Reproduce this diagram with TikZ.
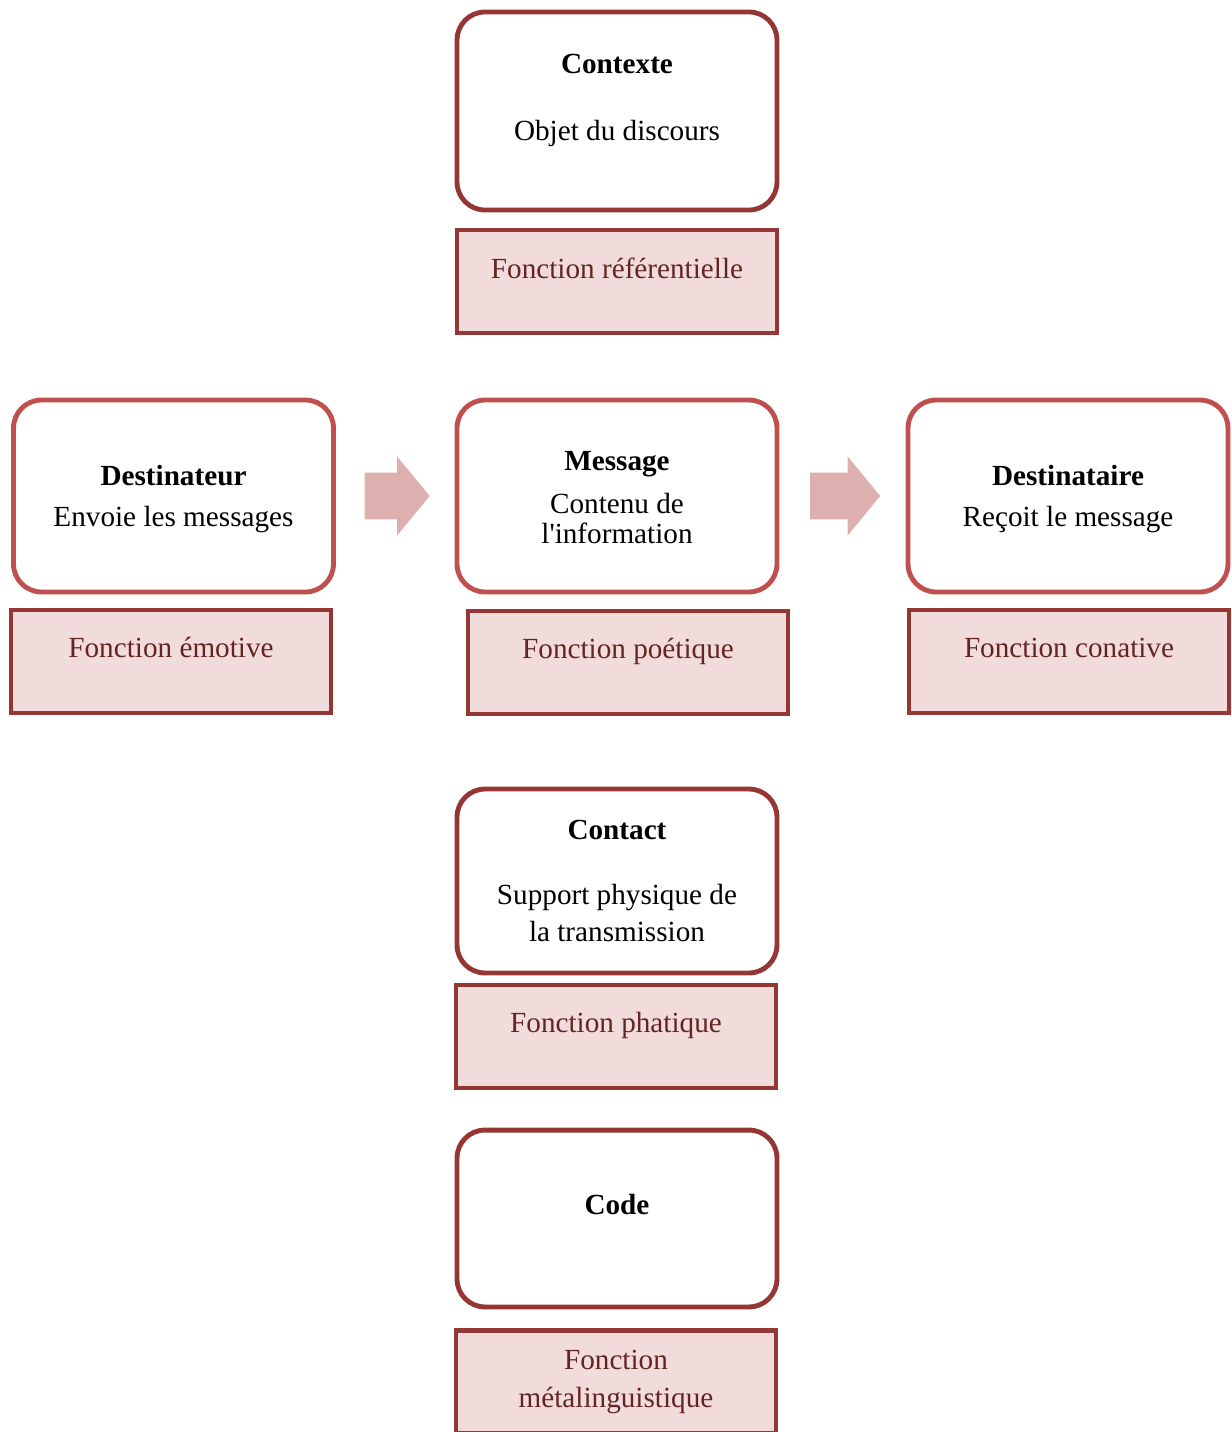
\documentclass[tikz,border=0pt]{standalone}
\usepackage{fontspec}
\setmainfont{Liberation Serif}[Ligatures=TeXOff]
\usetikzlibrary{shapes.arrows}
\definecolor{frame}{HTML}{943634}
\definecolor{framelight}{HTML}{C0504D}
\definecolor{rose}{HTML}{F2DCDB}
\definecolor{wine}{HTML}{632523}
\definecolor{arrowpink}{HTML}{DDAFAF}
\tikzset{
  every node/.style={font=\fontsize{12}{14.4}\selectfont, align=center,
    inner sep=0pt},
  rolebox/.style={draw=frame, fill=white, line width=2pt,
    rounded corners=11.5pt, minimum width=131.5pt},
  rolelight/.style={rolebox, draw=framelight, minimum height=78.9pt},
  fonction/.style={draw=frame, fill=rose, line width=2pt, text=wine,
    minimum width=131.5pt, minimum height=42.3pt},
  flow/.style={single arrow, fill=arrowpink, inner xsep=0pt,
    inner ysep=9.45pt, single arrow head extend=6.6pt,
    single arrow tip angle=101}
}

\begin{document}
\begin{tikzpicture}[x=0.411pt,y=-0.411pt]
\clip (0,0) rectangle (1231,1432);

% top: context
\node[rolebox, minimum height=81.4pt] (contexte) at (617,111)
  {\textbf{Contexte}\\[13.1pt]Objet du discours\\[-7.4pt]\strut};
\node[fonction] (referentielle) at (617,281.5)
  {Fonction référentielle\\[-7.4pt]\strut};

% middle row: sender, message, receiver
\node[rolelight] (destinateur) at (173.5,496)
  {\rule{0pt}{11pt}\textbf{Destinateur}\\[2.6pt]Envoie les messages};
\node[fonction] (emotive) at (171,661.5)
  {Fonction émotive\\[-7.4pt]\strut};

\node[rolelight] (message) at (617,496)
  {\rule{0pt}{9.5pt}\textbf{Message}\\[2.9pt]Contenu de\\[-1.7pt]l'information};
\node[fonction] (poetique) at (628,662.5)
  {Fonction poétique\\[-7.4pt]\strut};

\node[rolelight] (destinataire) at (1068,496)
  {\rule{0pt}{11pt}\textbf{Destinataire}\\[2.6pt]Reçoit le message};
\node[fonction] (conative) at (1069,661.5)
  {Fonction conative\\[-7.4pt]\strut};

\node[flow, minimum height=26.7pt] (fleche1) at (387.5,496) {};
\node[flow, minimum height=28.8pt] (fleche2) at (835.5,496) {};

% bottom: contact and code
\node[rolebox, minimum height=75.6pt] (contact) at (617,881)
  {\textbf{Contact}\\[12.3pt]Support physique de\\[1.2pt]la transmission};
\node[fonction] (phatique) at (616,1036.5)
  {Fonction phatique\\[-7.4pt]\strut};

\node[rolebox, minimum height=72.7pt] (code) at (617,1218.5)
  {\textbf{Code}\\[-7.4pt]\strut};
\node[fonction] (metalinguistique) at (616,1382)
  {Fonction\\[1.2pt]métalinguistique};

\end{tikzpicture}
\end{document}
